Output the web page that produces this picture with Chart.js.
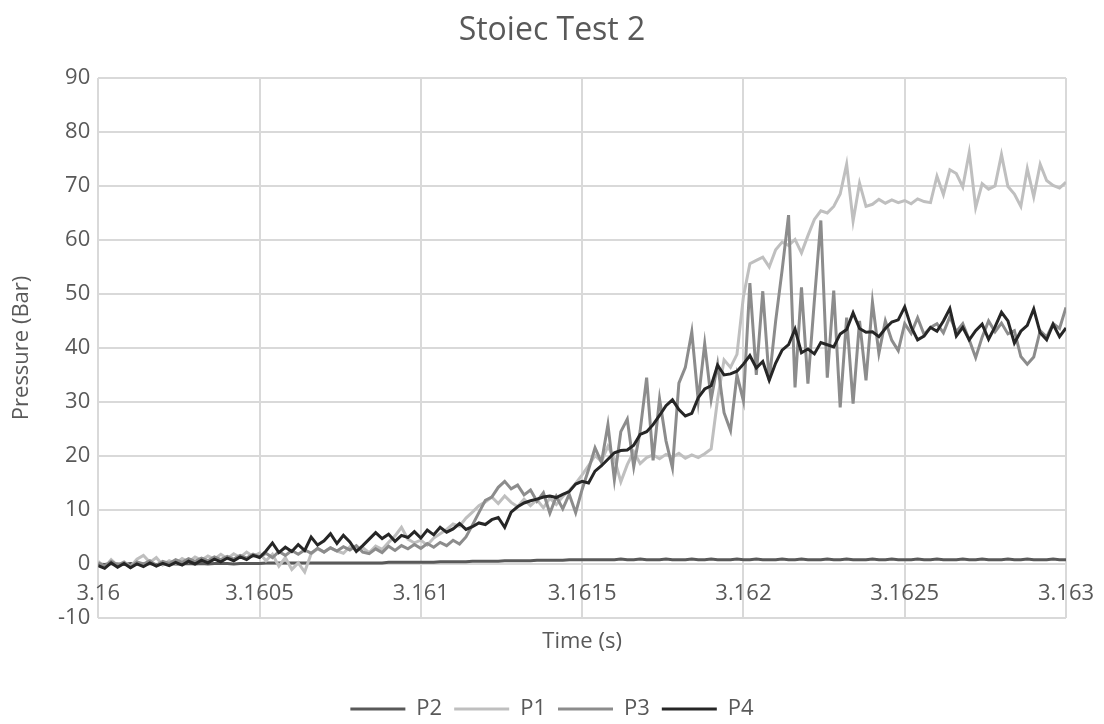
<!DOCTYPE html>
<html>
<head>
<meta charset="utf-8">
<title>Stoiec Test 2</title>
<script src="https://cdn.jsdelivr.net/npm/chart.js@4.4.1/dist/chart.umd.min.js"></script>
<style>
  html, body { margin: 0; padding: 0; background: #ffffff; }
  #wrap { width: 1104px; height: 724px; }
</style>
</head>
<body>
<div id="wrap"><canvas id="pressureChart" width="1104" height="724"></canvas></div>
<script>
// ==========================
// Sampled pressure traces (Bar), one value per sample
// ==========================
const sampleStart = 3.16;     // s
const sampleStep  = 0.00002;  // s between samples

const p2 = [
  0.0, -0.1, 0.1, 0.0, -0.1, 0.1, 0.0, 0.0, 0.1, -0.1,
  0.0, 0.1, 0.0, 0.0, 0.1, 0.0, 0.1, 0.0, 0.1, 0.1,
  0.1, 0.0, 0.1, 0.1, 0.1, 0.1, 0.2, 0.2, 0.2, 0.2,
  0.2, 0.2, 0.2, 0.2, 0.2, 0.2, 0.2, 0.2, 0.2, 0.2,
  0.2, 0.2, 0.2, 0.2, 0.2, 0.3, 0.3, 0.3, 0.3, 0.3,
  0.3, 0.3, 0.3, 0.4, 0.4, 0.4, 0.4, 0.4, 0.5, 0.5,
  0.5, 0.5, 0.5, 0.6, 0.6, 0.6, 0.6, 0.6, 0.7, 0.7,
  0.7, 0.7, 0.7, 0.8, 0.8, 0.8, 0.8, 0.8, 0.8, 0.8,
  0.8, 0.9, 0.8, 0.8, 0.9, 0.8, 0.8, 0.8, 0.9, 0.8,
  0.8, 0.8, 0.9, 0.8, 0.8, 0.9, 0.8, 0.8, 0.8, 0.9,
  0.8, 0.8, 0.9, 0.8, 0.8, 0.8, 0.9, 0.8, 0.8, 0.9,
  0.8, 0.8, 0.8, 0.9, 0.8, 0.8, 0.9, 0.8, 0.8, 0.8,
  0.9, 0.8, 0.8, 0.9, 0.8, 0.8, 0.8, 0.9, 0.8, 0.8,
  0.9, 0.8, 0.8, 0.8, 0.9, 0.8, 0.8, 0.9, 0.8, 0.8,
  0.8, 0.9, 0.8, 0.8, 0.9, 0.8, 0.8, 0.8, 0.9, 0.8, 0.8
];

const p1 = [
  0.5, -0.6, 0.8, -0.3, 0.4, -0.5, 0.9, 1.6, 0.3, 1.2,
  -0.2, 0.6, 0.1, 1.0, 0.4, 1.3, 0.7, 1.5, 0.9, 1.8,
  1.0, 1.9, 1.2, 2.2, 1.4, 2.0, 0.6, 1.8, -0.4, 1.2,
  -1.0, 0.2, -1.5, 1.9, 2.8, 2.2, 3.0, 2.4, 2.0, 3.2,
  2.6, 3.0, 2.1, 3.3, 2.7, 4.0, 5.2, 6.8, 4.6, 3.9,
  4.4, 3.5, 4.8, 5.6, 6.4, 7.4, 7.0, 8.5, 9.6, 10.8,
  11.5, 12.4, 11.2, 12.6, 11.4, 10.6, 12.0, 10.8, 11.9, 10.4,
  12.2, 11.0, 12.5, 13.6, 14.9, 16.5, 18.2, 20.1, 19.0, 21.8,
  19.5, 15.2, 18.4, 20.8, 18.6, 19.7, 20.2, 19.5, 20.3, 19.8,
  20.5, 19.6, 20.2, 19.7, 20.4, 21.3, 30.5, 37.8, 36.4, 38.8,
  49.5, 55.6, 56.2, 56.8, 55.0, 58.2, 59.6, 59.0, 60.1, 57.6,
  60.8, 63.8, 65.4, 65.0, 66.2, 68.5, 74.0, 63.5, 70.5, 66.2,
  66.6, 67.5, 66.8, 67.4, 66.9, 67.3, 66.7, 67.6, 67.1, 66.9,
  71.8, 68.4, 73.0, 72.3, 69.8, 76.2, 66.0, 70.4, 69.4, 70.0,
  75.8, 69.9, 68.5, 66.2, 73.2, 68.0, 74.0, 71.0, 70.1, 69.6, 70.7
];

const p3 = [
  0.2, -0.4, 0.5, -0.2, 0.3, -0.6, 0.4, 0.0, 0.6, -0.3,
  0.5, 0.1, 0.8, 0.3, 1.0, 0.5, 1.1, 0.6, 1.3, 0.8,
  1.4, 0.9, 1.6, 1.1, 1.8, 1.3, 2.0, 1.2, 2.3, 1.6,
  2.5, 1.8, 2.6, 2.0, 2.9, 2.2, 3.0, 2.4, 3.2, 2.6,
  3.4, 2.2, 1.9, 2.8, 2.1, 3.3, 2.5, 3.4, 2.8, 3.6,
  2.9, 3.8, 3.1, 4.0, 3.4, 4.4, 3.7, 5.0, 7.2, 9.5,
  11.8, 12.4, 14.2, 15.3, 13.9, 14.6, 12.8, 13.7, 11.6, 13.2,
  9.4, 12.5, 10.2, 12.9, 9.5, 13.8, 17.5, 21.5, 18.8, 25.8,
  15.6, 24.5, 26.8, 18.0, 24.7, 34.5, 19.2, 30.6, 22.8, 17.8,
  33.5, 36.4, 43.0, 30.2, 40.8, 30.5, 37.0, 28.0, 24.7, 35.0,
  30.2, 52.0, 35.0, 50.5, 34.0, 45.0, 54.4, 64.6, 32.7, 51.2,
  33.4, 48.8, 63.6, 34.5, 50.6, 29.0, 45.6, 29.7, 45.0, 34.0,
  48.5, 39.0, 45.0, 41.4, 39.5, 44.5, 42.7, 45.6, 42.5, 43.8,
  44.5, 42.8, 45.8, 43.0, 44.5, 41.5, 38.2, 42.0, 45.0, 43.0,
  44.6, 42.6, 43.2, 38.4, 37.0, 38.3, 43.2, 42.0, 44.5, 43.6, 47.5
];

const p4 = [
  -0.3, -0.8, 0.2, -0.6, 0.1, -0.7, 0.0, -0.5, 0.2, -0.4,
  0.1, -0.3, 0.3, -0.2, 0.5, 0.0, 0.7, 0.2, 0.9, 0.4,
  1.1, 0.6, 1.3, 0.8, 1.6, 1.2, 2.4, 3.9, 2.1, 3.1,
  2.3, 3.6, 2.5, 5.0, 3.5, 4.3, 5.6, 3.8, 5.3, 4.1,
  2.3, 3.4, 4.6, 5.8, 4.7, 5.5, 4.2, 5.3, 4.9, 6.0,
  4.8, 6.3, 5.4, 6.8, 5.9, 6.5, 7.5, 6.4, 6.9, 7.6,
  7.3, 8.2, 8.6, 6.8, 9.6, 10.6, 11.3, 11.7, 12.0, 12.4,
  12.6, 12.3, 12.9, 13.4, 14.8, 15.3, 15.0, 17.2, 18.2, 19.4,
  20.6, 21.0, 21.1, 22.0, 24.0, 24.5, 25.8, 27.5, 29.3, 30.4,
  28.6, 27.4, 27.9, 30.8, 32.4, 33.0, 36.8, 35.0, 35.2, 35.7,
  37.0, 38.6, 36.3, 37.5, 34.0, 37.2, 39.6, 40.6, 43.5, 39.1,
  39.8, 38.9, 41.0, 40.6, 40.2, 42.6, 43.4, 46.5, 43.6, 42.9,
  43.0, 42.1, 43.6, 44.8, 45.2, 47.6, 43.9, 41.5, 42.2, 43.8,
  43.1, 45.0, 47.3, 42.2, 43.8, 41.5, 43.2, 44.4, 41.6, 43.9,
  46.6, 45.0, 40.9, 43.1, 44.2, 47.2, 42.8, 41.5, 44.4, 42.1, 43.7
];

const timeTicks     = [3.16, 3.1605, 3.161, 3.1615, 3.162, 3.1625, 3.163];
const pressureTicks = [-10, 0, 10, 20, 30, 40, 50, 60, 70, 80, 90];

// ==========================
// Styling
// ==========================
const FONT      = "'Open Sans', 'Liberation Sans', sans-serif";
const TEXT_GREY = "#595959";
const GRID_GREY = "#d9d9d9";
const TICK_SIZE = 22;

const sampleTimes = p1.map((_, i) => sampleStart + i * sampleStep);
const toPoints = values => values.map((v, i) => ({ x: sampleTimes[i], y: v }));

function makeSeries(label, values, color, order) {
  return {
    label: label,
    data: toPoints(values),
    borderColor: color,
    backgroundColor: color,
    borderWidth: 3,
    pointRadius: 0,
    tension: 0,
    order: order
  };
}

// Time labels sit just under the zero line, like an axis crossing at 0
const zeroLineTimeLabels = {
  id: "zeroLineTimeLabels",
  afterDatasetsDraw(chart) {
    const { ctx, scales: { x, y } } = chart;
    const yZero = y.getPixelForValue(0);
    ctx.save();
    ctx.font = `${TICK_SIZE}px ${FONT}`;
    ctx.fillStyle = TEXT_GREY;
    ctx.textAlign = "center";
    ctx.textBaseline = "middle";
    x.ticks.forEach(t => {
      ctx.fillText(t.label, x.getPixelForValue(t.value), yZero + 30);
    });
    ctx.restore();
  }
};

// ==========================
// Chart
// ==========================
const ctx = document.getElementById("pressureChart").getContext("2d");
new Chart(ctx, {
  type: "line",
  data: {
    datasets: [
      makeSeries("P2", p2, "#595959", 3),
      makeSeries("P1", p1, "#bfbfbf", 2),
      makeSeries("P3", p3, "#8c8c8c", 1),
      makeSeries("P4", p4, "#262626", 0)
    ]
  },
  plugins: [zeroLineTimeLabels],
  options: {
    responsive: false,
    animation: false,
    layout: { padding: { left: 0, right: 0, top: 0, bottom: -6 } },
    plugins: {
      title: {
        display: true,
        text: "Stoiec Test 2",
        color: TEXT_GREY,
        font: { family: FONT, size: 32, weight: "normal" },
        padding: { top: 11.5, bottom: 28 }
      },
      legend: {
        position: "bottom",
        labels: {
          usePointStyle: true,
          pointStyle: "line",
          pointStyleWidth: 55,
          color: TEXT_GREY,
          font: { family: FONT, size: 22 },
          padding: 12,
          sort: (a, b) => a.datasetIndex - b.datasetIndex
        }
      },
      tooltip: { enabled: false }
    },
    scales: {
      x: {
        type: "linear",
        min: 3.16,
        max: 3.163,
        afterBuildTicks: scale => { scale.ticks = timeTicks.map(v => ({ value: v })); },
        afterFit: scale => { scale.paddingRight = 38; },
        grid: { color: GRID_GREY, lineWidth: 2, drawTicks: false },
        border: { display: false },
        ticks: {
          display: false,
          autoSkip: false,
          callback: v => String(+v.toFixed(4))
        },
        title: {
          display: true,
          text: "Time (s)",
          color: TEXT_GREY,
          font: { family: FONT, size: 22 },
          padding: { top: 10.8, bottom: 30.8 }
        }
      },
      y: {
        min: -10,
        max: 90,
        afterBuildTicks: scale => { scale.ticks = pressureTicks.map(v => ({ value: v })); },
        grid: { color: GRID_GREY, lineWidth: 2, drawTicks: false },
        border: { display: false },
        ticks: {
          color: TEXT_GREY,
          font: { family: FONT, size: TICK_SIZE },
          padding: 8
        },
        title: {
          display: true,
          text: "Pressure (Bar)",
          color: TEXT_GREY,
          font: { family: FONT, size: 22 },
          padding: { top: 8.8, bottom: 14.8 }
        }
      }
    }
  }
});
</script>
</body>
</html>
